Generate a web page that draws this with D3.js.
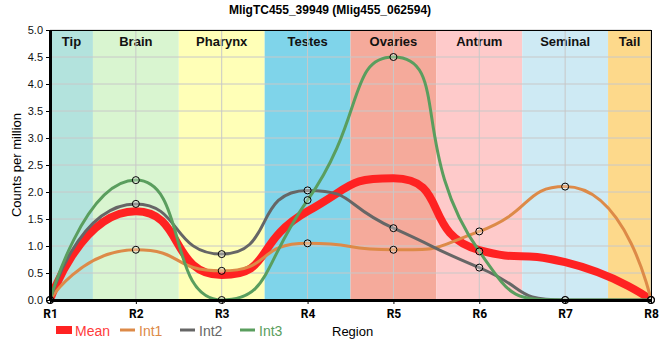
<!DOCTYPE html>
<html><head><meta charset="utf-8">
<script src="https://cdn.jsdelivr.net/npm/d3@7"></script>
<style>body{margin:0;background:#fff}svg{display:block;font-family:Arial,"Liberation Sans",sans-serif}</style>
</head><body><svg id="c" width="660" height="360"></svg>
<script>
const regions = ["R1","R2","R3","R4","R5","R6","R7","R8"];
const bandNames = ["Tip","Brain","Pharynx","Testes","Ovaries","Antrum","Seminal","Tail"];
const bandColors = ["#b3e3dd","#d9f5d0","#ffffb7","#7fd4ea","#f5aa9b","#fecaca","#ceeaf4","#fdd98b"];
const int1 = [0, 0.93, 0.54, 1.05, 0.93, 1.27, 2.10, 0];
const int2 = [0, 1.78, 0.85, 2.03, 1.33, 0.60, 0, 0];
const int3 = [0, 2.22, 0, 1.85, 4.50, 0.90, 0, 0];
const meanVals = regions.map((r,i)=>(int1[i]+int2[i]+int3[i])/3);
const yTicks = [0,0.5,1,1.5,2,2.5,3,3.5,4,4.5,5];
const title = "MligTC455_39949 (Mlig455_062594)";

const svg = d3.select("#c");
const L=50,R=651,T=30,B=300;
const x = d3.scalePoint().domain(regions).range([L,R]);
const xi = d3.scaleLinear().domain([0,regions.length-1]).range([L,R]);
const y = d3.scaleLinear().domain([0,5]).range([B,T]);

// smoothed bezier path with control points clamped between neighbours
function smooth(vals, s=0.6){
  const pts = vals.map((v,i)=>[x(regions[i]), y(v)]);
  const p = d3.path();
  let prevX, prevY, cpx0, cpy0;
  const mn=Math.min, mx=Math.max;
  pts.forEach(([px,py],i)=>{
    if(i===0){ p.moveTo(px,py); cpx0=px; cpy0=py; }
    else {
      let cpx1, cpy1, ncx, ncy;
      if(i===pts.length-1){ cpx1=px; cpy1=py; }
      else {
        const [nx,ny]=pts[i+1];
        let vx=nx-prevX, vy=ny-prevY;
        const lp=Math.hypot(px-prevX,py-prevY), ln=Math.hypot(nx-px,ny-py);
        const r=ln/(ln+lp);
        ncx=px+vx*s*r; ncy=py+vy*s*r;
        ncx=mx(mn(ncx,mx(nx,px)),mn(nx,px)); ncy=mx(mn(ncy,mx(ny,py)),mn(ny,py));
        vx=ncx-px; vy=ncy-py;
        cpx1=px-vx*lp/ln; cpy1=py-vy*lp/ln;
        cpx1=mx(mn(cpx1,mx(prevX,px)),mn(prevX,px)); cpy1=mx(mn(cpy1,mx(prevY,py)),mn(prevY,py));
        vx=px-cpx1; vy=py-cpy1;
        ncx=px+vx*ln/lp; ncy=py+vy*ln/lp;
      }
      p.bezierCurveTo(cpx0,cpy0,cpx1,cpy1,px,py);
      cpx0=ncx; cpy0=ncy;
    }
    prevX=px; prevY=py;
  });
  return p.toString();
}

svg.append("defs").append("clipPath").attr("id","clip").append("rect").attr("x",L).attr("y",T).attr("width",R-L+5).attr("height",B-T);

// bands
bandNames.forEach((n,i)=>{
  const x0 = Math.max(L, xi(i-0.5)), x1 = Math.min(R, xi(i+0.5));
  svg.append("rect").attr("x",x0).attr("y",T).attr("width",x1-x0).attr("height",B-T).attr("fill",bandColors[i]);
  svg.append("text").attr("x",(x0+x1)/2).attr("y",T+16).attr("text-anchor","middle")
    .attr("font-size",13).attr("font-weight","bold").attr("fill","#111").text(n);
});
// grid
const g = svg.append("g");
yTicks.forEach(t=>g.append("line").attr("x1",L).attr("x2",R).attr("y1",y(t)).attr("y2",y(t)).attr("stroke","#c8c8c8").attr("stroke-width",1));
regions.forEach(r=>g.append("line").attr("x1",x(r)).attr("x2",x(r)).attr("y1",T).attr("y2",B).attr("stroke","#c8c8c8").attr("stroke-width",1));

const series = [
  {name:"Int1", vals:int1, color:"#dd8a48"},
  {name:"Int2", vals:int2, color:"#666666"},
  {name:"Int3", vals:int3, color:"#5a9e5e"}
];
const lines = svg.append("g").attr("clip-path","url(#clip)");
lines.append("path").attr("d",smooth(meanVals)).attr("fill","none").attr("stroke","#ff2222").attr("stroke-width",8);
series.forEach(s=>{
  lines.append("path").attr("d",smooth(s.vals)).attr("fill","none").attr("stroke",s.color).attr("stroke-width",3);
});
series.forEach(s=>{
  s.vals.forEach((v,i)=>svg.append("circle").attr("cx",x(regions[i])).attr("cy",y(v)).attr("r",3.5)
    .attr("fill","rgba(255,255,255,0.3)").attr("stroke","#000").attr("stroke-width",1));
});

// border
svg.append("line").attr("x1",L).attr("x2",R).attr("y1",T+0.5).attr("y2",T+0.5).attr("stroke","#000");
svg.append("line").attr("x1",R+0.5).attr("x2",R+0.5).attr("y1",T).attr("y2",B).attr("stroke","#000");

// axes
const ya = svg.append("g").attr("transform",`translate(${L},0)`)
  .call(d3.axisLeft(y).tickValues(yTicks).tickFormat(d3.format(".1f")).tickSize(4).tickSizeOuter(0));
ya.select(".domain").attr("stroke-width",3);
ya.selectAll("text").attr("font-size",11).attr("fill","#111").attr("font-family","Arial,sans-serif");
const xa = svg.append("g").attr("transform",`translate(0,${B})`)
  .call(d3.axisBottom(x).tickSize(4).tickSizeOuter(0));
xa.select(".domain").attr("stroke-width",3);
xa.selectAll("text").attr("font-size",12).attr("font-weight","bold").attr("fill","#000").attr("dy","0.9em").attr("font-family","Roboto,Arial,sans-serif");

// titles
svg.append("text").attr("x",330).attr("y",14).attr("text-anchor","middle").attr("font-size",12).attr("font-weight","bold").text(title);
svg.append("text").attr("transform","translate(21,165) rotate(-90)").attr("text-anchor","middle").attr("font-size",13).text("Counts per million");
svg.append("text").attr("x",332).attr("y",336).attr("font-size",13).text("Region");

// legend
const lg = svg.append("g");
lg.append("rect").attr("x",56).attr("y",326).attr("width",16).attr("height",8).attr("fill","#ff2222");
lg.append("text").attr("x",75).attr("y",335.5).attr("font-size",14).attr("fill","#ff3b3b").text("Mean");
const lx = [120,180,240];
series.forEach((s,i)=>{
  lg.append("line").attr("x1",lx[i]).attr("x2",lx[i]+15).attr("y1",330).attr("y2",330).attr("stroke",s.color).attr("stroke-width",3);
  lg.append("text").attr("x",lx[i]+19).attr("y",335.5).attr("font-size",14).attr("fill",s.color).text(s.name);
});
</script></body></html>
